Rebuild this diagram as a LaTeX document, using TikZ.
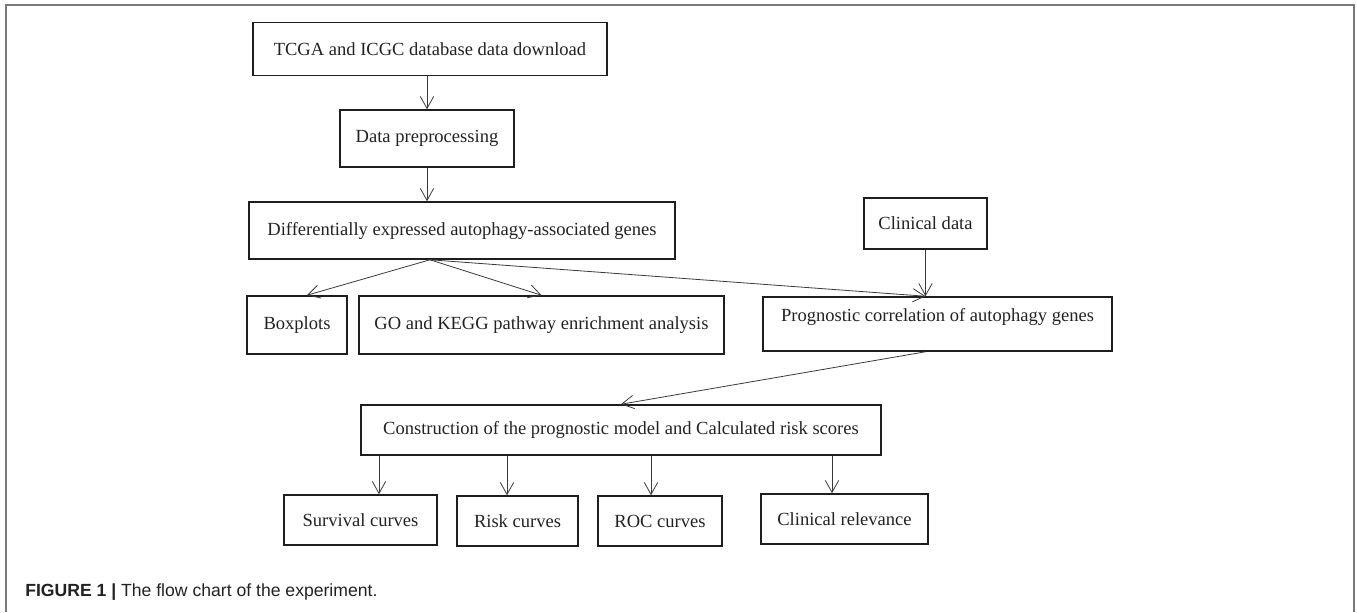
\documentclass[tikz,border=0pt]{standalone}
\usepackage{fontspec}
\setmainfont{Liberation Serif}
\newfontfamily\capfont{Liberation Sans}
\usetikzlibrary{arrows.meta,calc}
\definecolor{boxline}{HTML}{1E1E1E}
\definecolor{arrline}{HTML}{3A3A3A}
\definecolor{txt}{HTML}{222222}
\definecolor{framec}{HTML}{7A7A7A}
\tikzset{
  flowbox/.style n args={2}{draw=boxline, line width=1.15pt, inner sep=0pt,
    minimum width=#1*0.75pt, minimum height=#2*0.75pt, text=txt,
    font=\fontsize{13.9pt}{16pt}\selectfont},
  arr/.style={draw=arrline, line width=0.6pt,
    -{Straight Barb[length=9pt,width=10pt,line width=0.6pt]}},
  framel/.style={draw=framec, line width=1.2pt}
}
\begin{document}
\begin{tikzpicture}[x=0.75pt,y=-0.75pt]
\useasboundingbox (0,0) rectangle (1357,612);
% frame (open at the bottom)
\coordinate (fbl) at (6,612);
\coordinate (ftl) at (6,5);
\coordinate (ftr) at (1354,5);
\coordinate (fbr) at (1354,612);
\draw[framel] (fbl) -- (ftl) -- (ftr) -- (fbr);

% boxes
\node[flowbox={354}{53}] (tcga) at (430,49) {TCGA and ICGC database data download};
\node[flowbox={174}{57}] (dp) at (427,138.5) {Data preprocessing};
\node[flowbox={426}{57}] (deg) at (462,230.5) {Differentially expressed autophagy-associated genes};
\node[flowbox={123}{51}] (clin) at (925.5,223.5) {Clinical data};
\node[flowbox={100}{58}] (bp) at (297,325) {Boxplots};
\node[flowbox={365}{58}] (go) at (541.5,325) {GO and KEGG pathway enrichment analysis};
\node[flowbox={349}{54}, text depth=14pt] (prog) at (937.5,324) {Prognostic correlation of autophagy genes};
\node[flowbox={520}{50}] (cons) at (621,430) {Construction of the prognostic model and Calculated risk scores};
\node[flowbox={153}{50}] (sv) at (360.5,520) {Survival curves};
\node[flowbox={121}{50}] (rk) at (517.5,521) {Risk curves};
\node[flowbox={124}{50}] (roc) at (660,521) {ROC curves};
\node[flowbox={167}{50}] (cr) at (844.5,519) {Clinical relevance};

% connectors
\draw[arr] (dp.north |- tcga.south) -- (dp.north);
\draw[arr] (dp.south) -- (dp.south |- deg.north);
\coordinate (degout) at ($(dp.south |- deg.south)+(3,0)$);
\coordinate (bpin) at ($(bp.north)+(10,0)$);
\draw[arr] (degout) -- (bpin);
\draw[arr] (degout) -- (go.north);
\draw[arr] (degout) -- (clin.south |- prog.north);
\draw[arr] (clin.south) -- (clin.south |- prog.north);
\draw[arr] (clin.south |- prog.south) -- (cons.north);
\coordinate (svin) at ($(sv.north)+(18.5,0)$);
\coordinate (rkin) at ($(rk.north)+(-10.5,0)$);
\coordinate (rocin) at ($(roc.north)+(-9,0)$);
\coordinate (crin) at ($(cr.north)+(-12.5,0)$);
\draw[arr] (svin |- cons.south) -- (svin);
\draw[arr] (rkin |- cons.south) -- (rkin);
\draw[arr] (rocin |- cons.south) -- (rocin);
\draw[arr] (crin |- cons.south) -- (crin);

% caption
\node[anchor=west, inner sep=0pt, text=txt, font=\capfont\fontsize{13.2pt}{15pt}\selectfont] (cap) at (25,592)
  {\textbf{FIGURE 1} \textbf{|} The flow chart of the experiment.};
\end{tikzpicture}
\end{document}
